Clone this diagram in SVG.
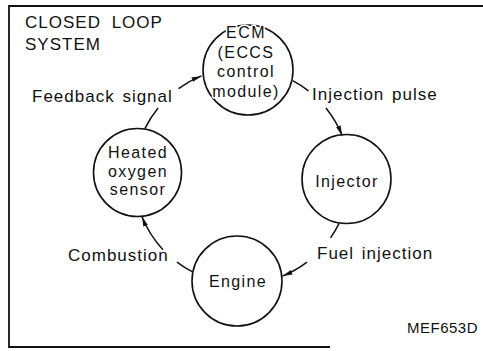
<svg xmlns="http://www.w3.org/2000/svg" width="483" height="351" viewBox="0 0 483 351">
<style>
.frame{fill:none;stroke:#111;stroke-width:1.8}
.node{fill:none;stroke:#111;stroke-width:1.6}
.t{font-family:"Liberation Sans",Arial,Helvetica,sans-serif;font-size:17px;fill:#111;letter-spacing:1px;word-spacing:2px}
.n{font-size:16px;letter-spacing:1.4px}
.c{text-anchor:middle}
.halo{paint-order:stroke;stroke:#fff;stroke-width:3px;stroke-linejoin:round}
.conn{fill:none;stroke:#111;stroke-width:1.5}
.code{font-family:"Liberation Sans",Arial,Helvetica,sans-serif;font-size:15px;fill:#111;letter-spacing:0.5px}
</style>
<defs>
<marker id="ah" viewBox="0 0 10 6" refX="10" refY="3" markerWidth="10" markerHeight="6" markerUnits="userSpaceOnUse" orient="auto">
<path d="M0,0.6 L10,3 L0,5.4 Z" fill="#111"/>
</marker>
</defs>
<rect width="483" height="351" fill="#fff"/>
<path class="frame" d="M485,6 H9 V347 H330"/>
<text class="t" x="25" y="28" style="word-spacing:5px">CLOSED LOOP</text>
<text class="t" x="25" y="50">SYSTEM</text>

<g id="connectors">
<path class="conn" d="M144.9,128.7 A108,108 0 0 1 158.1,108"/>
<path class="conn" d="M178.5,88.6 A108,108 0 0 1 201.5,75.9" marker-end="url(#ah)"/>
<path class="conn" d="M292.7,80.6 A108,108 0 0 1 308.5,90.9"/>
<path class="conn" d="M325.9,108 A108,108 0 0 1 342.1,135.5" marker-end="url(#ah)"/>
<path class="conn" d="M339.1,223.3 A108,108 0 0 1 330.5,237.9"/>
<path class="conn" d="M307,262.2 A108,108 0 0 1 282.5,276.1" marker-end="url(#ah)"/>
<path class="conn" d="M193,272.2 A108,108 0 0 1 177,262.2"/>
<path class="conn" d="M163,249.7 A108,108 0 0 1 141.9,216.5" marker-end="url(#ah)"/>
</g>

<g id="label-feedback"><text class="t" x="32" y="102">Feedback signal</text></g>
<g id="label-pulse"><text class="t" x="312" y="100">Injection pulse</text></g>
<g id="label-fuel"><text class="t" x="317" y="259">Fuel injection</text></g>
<g id="label-combustion"><text class="t" x="68" y="261">Combustion</text></g>

<g id="ecm">
<circle class="node" cx="248" cy="70" r="45"/>
<text class="t n c halo" x="246" y="38">ECM</text>
<text class="t n c halo" x="246" y="57.5">(ECCS</text>
<text class="t n c halo" x="246" y="77">control</text>
<text class="t n c halo" x="246" y="96.5">module)</text>
</g>
<g id="injector">
<circle class="node" cx="346.5" cy="179" r="44.5"/>
<text class="t n c" x="347" y="187">Injector</text>
</g>
<g id="engine">
<circle class="node" cx="237" cy="281" r="45"/>
<text class="t n c" x="238" y="287">Engine</text>
</g>
<g id="sensor">
<circle class="node" cx="137.5" cy="172.5" r="44"/>
<text class="t n c" x="138" y="158">Heated</text>
<text class="t n c" x="138" y="176.5">oxygen</text>
<text class="t n c" x="138" y="195">sensor</text>
</g>
<text class="code" x="407" y="333">MEF653D</text>
</svg>
